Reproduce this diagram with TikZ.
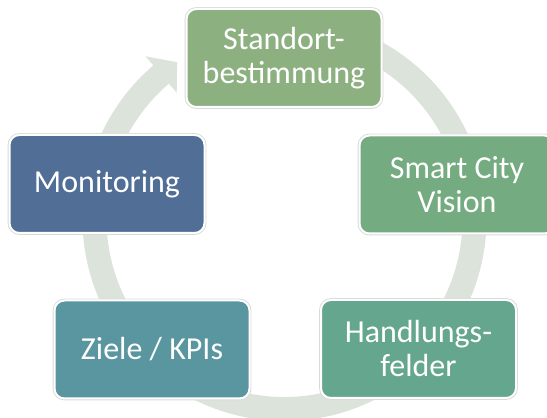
\documentclass[tikz,border=0pt]{standalone}
\usepackage{fontspec}
\setmainfont{Carlito}
\definecolor{ringc}{HTML}{DCE3DA}
\definecolor{cA}{HTML}{8DB080}
\definecolor{cB}{HTML}{74AB80}
\definecolor{cC}{HTML}{65A68E}
\definecolor{cD}{HTML}{5A96A0}
\definecolor{cE}{HTML}{506E96}
\begin{document}
\begin{tikzpicture}[x=1pt,y=1pt,
  box/.style={rectangle, rounded corners=10pt, minimum width=195pt, minimum height=98pt,
    inner sep=0pt, text=white, align=center, font=\fontsize{32}{34}\selectfont,
    draw=white, line width=2pt, preaction={draw=black!15, line width=3.8pt}},
  ring/.style={ringc, line width=24pt}]
\useasboundingbox (0,0) rectangle (547,418);
\clip (0,0) rectangle (547,418);
\coordinate (c) at (284.5,199);
\draw[ring] (c) ++(65:190) arc[start angle=65, end angle=-230, radius=190];
\fill[ringc] ([shift={(130.5:214)}]c) -- ([shift={(124.4:190)}]c) -- ([shift={(130.5:166)}]c) -- cycle;
\node[box, fill=cA] (standort) at (284,360) {Standort-\\bestimmung};
\node[box, fill=cB] (vision) at (457,233.5) {Smart City\\Vision};
\node[box, fill=cC] (felder) at (418.5,69) {Handlungs-\\felder};
\node[box, fill=cD] (ziele) at (152,68.5) {Ziele / KPIs};
\node[box, fill=cE] (monitoring) at (107,234) {Monitoring};
\end{tikzpicture}
\end{document}
